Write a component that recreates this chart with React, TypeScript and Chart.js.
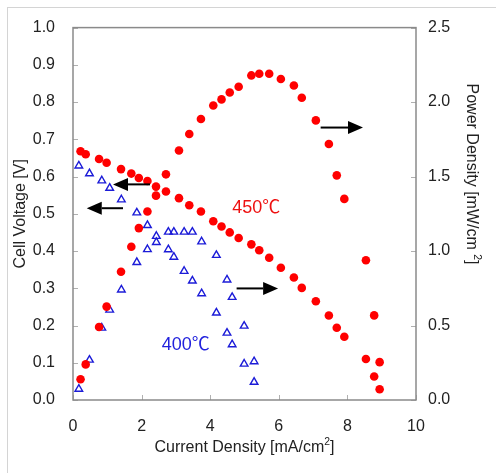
import React, { useEffect, useRef } from "react";
import { Chart, registerables } from "chart.js";

Chart.register(...registerables);

// 450 °C cell (red circles)
const current450 = [0.22, 0.37, 0.76, 0.98, 1.40, 1.70, 1.92, 2.17, 2.42, 2.71, 3.09, 3.39, 3.73, 4.09, 4.33, 4.57, 4.83, 5.20, 5.43, 5.72, 6.06, 6.44, 6.67, 7.08, 7.46, 7.69, 7.91, 8.54, 8.78, 8.94];
const voltage450 = [0.668, 0.660, 0.647, 0.637, 0.620, 0.608, 0.596, 0.588, 0.573, 0.560, 0.542, 0.523, 0.506, 0.480, 0.466, 0.450, 0.435, 0.418, 0.402, 0.382, 0.355, 0.329, 0.301, 0.265, 0.227, 0.194, 0.170, 0.110, 0.063, 0.029];
const power450 = [0.139, 0.239, 0.490, 0.627, 0.861, 1.029, 1.154, 1.265, 1.372, 1.515, 1.675, 1.786, 1.886, 1.977, 2.018, 2.064, 2.103, 2.179, 2.190, 2.190, 2.155, 2.111, 2.029, 1.877, 1.719, 1.508, 1.350, 0.938, 0.568, 0.254];

// 400 °C cell (blue open triangles)
const current400 = [0.17, 0.48, 0.84, 1.07, 1.41, 1.86, 2.17, 2.43, 2.78, 2.94, 3.24, 3.48, 3.75, 4.18, 4.49, 4.64, 4.99, 5.28];
const voltage400 = [0.629, 0.608, 0.589, 0.569, 0.538, 0.503, 0.469, 0.440, 0.404, 0.384, 0.346, 0.320, 0.286, 0.234, 0.180, 0.149, 0.097, 0.048];
const power400 = [0.074, 0.269, 0.484, 0.605, 0.740, 0.924, 1.011, 1.059, 1.128, 1.128, 1.128, 1.128, 1.063, 0.972, 0.807, 0.690, 0.497, 0.258];

// axis ranges / ticks
const xRange = [0, 10];
const xStep = 2;
const voltageRange = [0, 1];
const voltageStep = 0.1;
const powerRange = [0, 2.5];
const powerStep = 0.5;

// annotations (in data units)
const label450 = { text: "450℃", x: 4.64, v: 0.516 };
const label400 = { text: "400℃", x: 2.59, v: 0.148 };
// arrows: from (x1) to tip (x2) at level; axis tells which scale
const arrows = [
  { x1: 2.245, x2: 1.166, level: 0.579, axis: "y" },
  { x1: 1.458, x2: 0.40, level: 0.515, axis: "y" },
  { x1: 7.22, x2: 8.455, level: 1.829, axis: "y2" },
  { x1: 4.77, x2: 5.98, level: 0.749, axis: "y2" },
];

const FONT = "'Liberation Sans', Arial, 'Noto Sans CJK JP', sans-serif";

function toPoints(xs: number[], ys: number[]) {
  return xs.map((x, i) => ({ x, y: ys[i] }));
}

type Part = { t: string; sup?: boolean };

function drawRich(ctx: CanvasRenderingContext2D, parts: Part[], size: number, color: string) {
  // draws centred at (0,0), baseline middle
  const widths = parts.map((p) => {
    ctx.font = `${p.sup ? size * 0.65 : size}px ${FONT}`;
    return ctx.measureText(p.t).width;
  });
  const total = widths.reduce((a, b) => a + b, 0);
  let x = -total / 2;
  ctx.fillStyle = color;
  ctx.textAlign = "left";
  ctx.textBaseline = "middle";
  parts.forEach((p, i) => {
    ctx.font = `${p.sup ? size * 0.65 : size}px ${FONT}`;
    ctx.fillText(p.t, x, p.sup ? -size * 0.38 : 0);
    x += widths[i];
  });
}

const decorPlugin = {
  id: "decor",
  beforeDatasetsDraw(chart: any) {
    const { ctx, chartArea: a, scales } = chart;
    ctx.save();
    // inward ticks
    ctx.strokeStyle = "#b0b0b0";
    ctx.lineWidth = 1;
    const tl = 5;
    scales.y.ticks.forEach((t: any) => {
      const p = Math.round(scales.y.getPixelForValue(t.value)) + 0.5;
      ctx.beginPath();
      ctx.moveTo(a.left, p);
      ctx.lineTo(a.left + tl, p);
      ctx.stroke();
    });
    scales.y2.ticks.forEach((t: any) => {
      const p = Math.round(scales.y2.getPixelForValue(t.value)) + 0.5;
      ctx.beginPath();
      ctx.moveTo(a.right, p);
      ctx.lineTo(a.right - tl, p);
      ctx.stroke();
    });
    scales.x.ticks.forEach((t: any) => {
      const p = Math.round(scales.x.getPixelForValue(t.value)) + 0.5;
      ctx.beginPath();
      ctx.moveTo(p, a.bottom);
      ctx.lineTo(p, a.bottom - tl);
      ctx.stroke();
    });
    // plot frame
    ctx.strokeStyle = "#8a8a8a";
    ctx.lineWidth = 1.5;
    ctx.strokeRect(a.left, a.top, a.right - a.left, a.bottom - a.top);
    ctx.restore();
  },
  afterDraw(chart: any) {
    const { ctx, chartArea: a, scales } = chart;
    ctx.save();
    // arrows
    arrows.forEach((ar) => {
      const sy = scales[ar.axis];
      const y = sy.getPixelForValue(ar.level);
      const x1 = scales.x.getPixelForValue(ar.x1);
      const x2 = scales.x.getPixelForValue(ar.x2);
      const dir = x2 > x1 ? 1 : -1;
      const head = 15;
      const hw = 6.5;
      ctx.strokeStyle = "#000";
      ctx.lineWidth = 2;
      ctx.beginPath();
      ctx.moveTo(x1, y);
      ctx.lineTo(x2 - dir * head, y);
      ctx.stroke();
      ctx.fillStyle = "#000";
      ctx.beginPath();
      ctx.moveTo(x2, y);
      ctx.lineTo(x2 - dir * head, y - hw);
      ctx.lineTo(x2 - dir * head, y + hw);
      ctx.closePath();
      ctx.fill();
    });
    // temperature labels
    ctx.textAlign = "left";
    ctx.textBaseline = "middle";
    ctx.font = `18px ${FONT}`;
    ctx.fillStyle = "#ee1111";
    ctx.fillText(label450.text, scales.x.getPixelForValue(label450.x), scales.y.getPixelForValue(label450.v));
    ctx.fillStyle = "#2222dd";
    ctx.fillText(label400.text, scales.x.getPixelForValue(label400.x), scales.y.getPixelForValue(label400.v));

    // axis titles
    const titleColor = "#222";
    ctx.save();
    ctx.translate((a.left + a.right) / 2, 448);
    drawRich(ctx, [{ t: "Current Density [mA/cm" }, { t: "2", sup: true }, { t: "]" }], 16, titleColor);
    ctx.restore();

    ctx.save();
    ctx.translate(21, (a.top + a.bottom) / 2);
    ctx.rotate(-Math.PI / 2);
    drawRich(ctx, [{ t: "Cell Voltage [V]" }], 16, titleColor);
    ctx.restore();

    ctx.save();
    ctx.translate(471, 174);
    ctx.rotate(Math.PI / 2);
    drawRich(ctx, [{ t: "Power Density [mW/cm " }, { t: "2", sup: true }, { t: "]" }], 16, titleColor);
    ctx.restore();

    ctx.restore();
  },
};

export default function App() {
  const ref = useRef<HTMLCanvasElement | null>(null);

  useEffect(() => {
    if (!ref.current) return;
    const red = "#ff0000";
    const blue = "#1c1cd8";
    const chart = new Chart(ref.current, {
      type: "scatter",
      data: {
        datasets: [
          {
            label: "450 V",
            data: toPoints(current450, voltage450),
            yAxisID: "y",
            pointStyle: "circle",
            pointRadius: 4.3,
            backgroundColor: red,
            borderColor: red,
            borderWidth: 0,
          },
          {
            label: "450 P",
            data: toPoints(current450, power450),
            yAxisID: "y2",
            pointStyle: "circle",
            pointRadius: 4.3,
            backgroundColor: red,
            borderColor: red,
            borderWidth: 0,
          },
          {
            label: "400 V",
            data: toPoints(current400, voltage400),
            yAxisID: "y",
            pointStyle: "triangle",
            pointRadius: 4.4,
            backgroundColor: "rgba(0,0,0,0)",
            borderColor: blue,
            borderWidth: 1.4,
          },
          {
            label: "400 P",
            data: toPoints(current400, power400),
            yAxisID: "y2",
            pointStyle: "triangle",
            pointRadius: 4.4,
            backgroundColor: "rgba(0,0,0,0)",
            borderColor: blue,
            borderWidth: 1.4,
          },
        ],
      },
      options: {
        responsive: false,
        animation: false,
        layout: { padding: { top: 16, left: 0, right: 0, bottom: 0 } },
        plugins: { legend: { display: false }, tooltip: { enabled: false } },
        scales: {
          x: {
            type: "linear",
            min: xRange[0],
            max: xRange[1],
            ticks: { stepSize: xStep, padding: 17, color: "#222", font: { size: 16, family: FONT } },
            grid: { display: false, drawTicks: false },
            border: { display: false },
            afterFit: (s: any) => { s.height = 73; },
          },
          y: {
            position: "left",
            min: voltageRange[0],
            max: voltageRange[1],
            ticks: {
              stepSize: voltageStep,
              padding: 18,
              color: "#222",
              font: { size: 16, family: FONT },
              callback: (v: any) => Number(v).toFixed(1),
            },
            grid: { display: false, drawTicks: false },
            border: { display: false },
            afterFit: (s: any) => { s.width = 73; },
          },
          y2: {
            position: "right",
            min: powerRange[0],
            max: powerRange[1],
            ticks: {
              stepSize: powerStep,
              padding: 12,
              color: "#222",
              font: { size: 16, family: FONT },
              callback: (v: any) => Number(v).toFixed(1),
            },
            grid: { display: false, drawTicks: false },
            border: { display: false },
            afterFit: (s: any) => { s.width = 80; },
          },
        },
      },
      plugins: [decorPlugin],
    } as any);
    return () => chart.destroy();
  }, []);

  return (
    <div style={{ position: "fixed", left: 0, top: 0, width: 496, height: 473, background: "#fff" }}>
      <canvas ref={ref} width={496} height={473} style={{ display: "block", width: 496, height: 473 }} />
      <div
        style={{
          position: "absolute",
          left: 7,
          top: 7,
          right: 0,
          bottom: 0,
          borderLeft: "1px solid #d4d4d4",
          borderTop: "1px solid #d4d4d4",
          pointerEvents: "none",
        }}
      />
    </div>
  );
}
